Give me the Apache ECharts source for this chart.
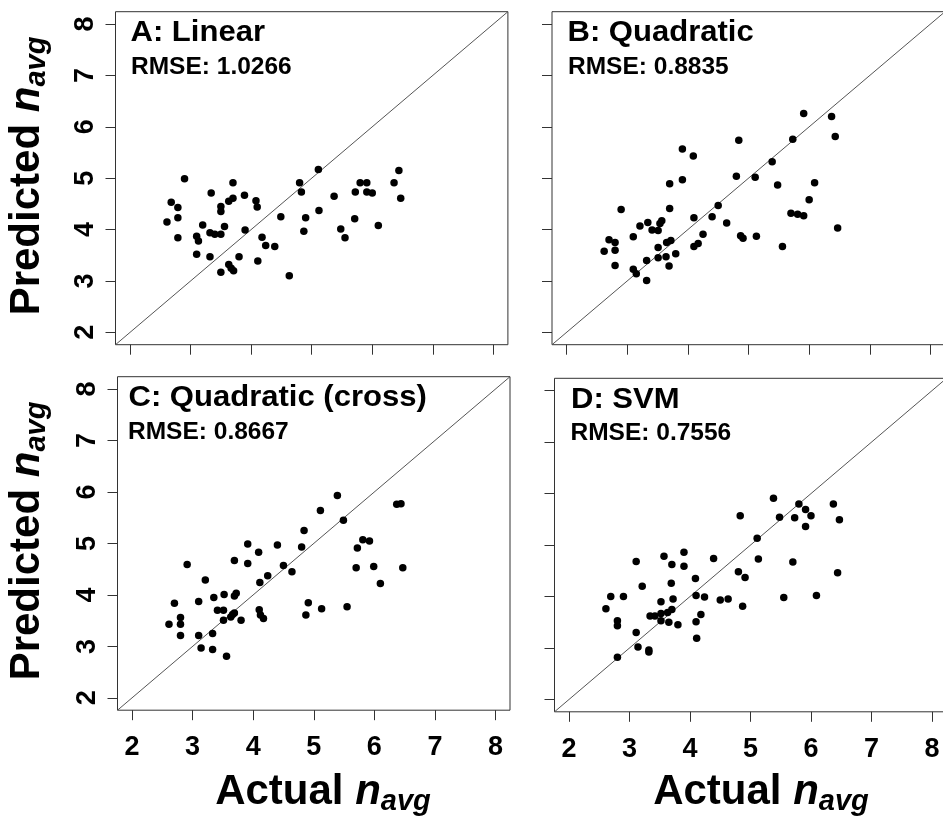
<!DOCTYPE html>
<html>
<head>
<meta charset="utf-8">
<script src="https://cdn.jsdelivr.net/npm/echarts@6.0.0/dist/echarts.min.js"></script>
<style>
  html, body { margin: 0; padding: 0; background: #fff; }
  #chart { width: 943px; height: 821px; }
</style>
</head>
<body>
<div id="chart"></div>
<script>
// ---------- data ----------
const AX_MIN = 1.76, AX_MAX = 8.24;
const tickValues = [2, 3, 4, 5, 6, 7, 8];
const panelTitles = ['A: Linear', 'B: Quadratic', 'C: Quadratic (cross)', 'D: SVM'];
const rmseLabels = ['RMSE: 1.0266', 'RMSE: 0.8835', 'RMSE: 0.8667', 'RMSE: 0.7556'];
const xAxisTitle = 'Actual ';
const yAxisTitle = 'Predicted ';

const actualA = [2.61,2.68,2.79,2.79,2.79,2.90,3.10,3.13,3.10,3.20,3.32,3.40,3.50,3.56,3.32,3.34,3.50,3.50,3.63,3.70,3.70,3.89,3.90,3.50,3.63,3.67,3.71,3.80,4.08,4.10,4.11,4.18,4.24,4.39,4.49,4.63,4.80,4.83,4.87,4.90,5.11,5.12,5.37,5.48,5.55,5.71,5.72,5.80,5.91,5.91,6.00,6.10,6.36,6.44,6.47];
const predA   = [4.15,4.53,4.43,4.23,3.84,4.99,3.87,3.78,3.52,4.09,3.94,3.91,3.91,4.06,3.47,4.71,4.45,4.35,4.55,4.61,4.91,4.67,3.99,3.17,3.32,3.25,3.20,3.47,4.56,4.44,3.39,3.85,3.69,3.67,4.25,3.10,4.91,4.73,3.97,4.23,5.17,4.37,4.65,4.01,3.84,4.21,4.73,4.91,4.91,4.73,4.71,4.08,4.91,5.15,4.61];

const actualB = [2.62,2.70,2.80,2.80,2.80,2.90,3.10,3.10,3.15,3.21,3.32,3.32,3.34,3.41,3.51,3.51,3.51,3.54,3.57,3.64,3.65,3.69,3.70,3.70,3.72,3.80,3.91,3.91,4.09,4.10,4.10,4.17,4.25,4.40,4.50,4.64,4.80,4.84,4.87,4.91,5.11,5.13,5.39,5.48,5.56,5.70,5.73,5.81,5.91,5.91,6.00,6.09,6.37,6.43,6.47];
const predB   = [3.58,3.80,3.75,3.60,3.30,4.39,3.86,3.23,3.14,4.07,3.40,3.01,4.14,3.99,3.98,3.65,3.45,4.12,4.17,3.47,3.75,3.29,4.89,4.41,3.79,3.53,4.97,5.57,5.43,4.23,3.67,3.73,3.91,4.25,4.47,4.13,5.04,5.74,3.88,3.83,5.02,3.87,5.32,4.87,3.67,4.32,5.76,4.30,4.27,6.26,4.58,4.91,6.20,5.81,4.03];

const actualC = [2.61,2.70,2.80,2.80,2.80,2.91,3.10,3.10,3.14,3.21,3.33,3.33,3.35,3.41,3.51,3.52,3.51,3.56,3.63,3.66,3.69,3.69,3.69,3.72,3.80,3.91,3.91,4.09,4.11,4.10,4.12,4.17,4.24,4.40,4.50,4.64,4.80,4.84,4.87,4.91,5.11,5.13,5.39,5.49,5.55,5.70,5.72,5.81,5.92,5.99,6.10,6.37,6.44,6.47];
const predC   = [3.43,3.84,3.56,3.43,3.21,4.59,3.87,3.21,2.97,4.29,3.25,2.94,3.95,3.70,3.70,4.01,3.51,2.81,3.57,3.62,3.65,4.67,3.98,4.03,3.51,4.99,4.61,4.83,4.24,3.71,3.61,3.54,4.37,4.97,4.57,4.45,4.93,5.25,3.61,3.85,5.64,3.73,5.93,5.45,3.77,4.53,4.91,5.07,5.05,4.55,4.22,5.76,5.77,4.53];

const actualD = [2.61,2.69,2.80,2.80,2.90,2.80,3.11,3.11,3.14,3.21,3.32,3.32,3.34,3.42,3.52,3.52,3.52,3.57,3.63,3.65,3.69,3.70,3.70,3.72,3.80,3.90,3.90,4.09,4.10,4.10,4.11,4.18,4.24,4.39,4.50,4.63,4.80,4.83,4.87,4.91,5.11,5.13,5.38,5.48,5.55,5.70,5.73,5.80,5.91,5.91,6.00,6.09,6.37,6.44,6.47];
const predD   = [3.76,4.00,3.53,3.43,4.00,2.82,4.68,3.30,3.02,4.20,2.96,2.92,3.62,3.62,3.90,3.53,3.67,4.78,3.69,3.50,4.26,4.62,3.75,3.95,3.45,4.86,4.59,4.35,4.02,3.51,3.19,3.65,3.99,4.74,3.93,3.95,4.48,5.57,3.81,4.37,5.13,4.73,5.91,5.54,3.98,4.67,5.53,5.80,5.69,5.36,5.57,4.02,5.80,4.46,5.49];

// ---------- layout / style ----------
const FONT = "'Liberation Sans', Arial, Helvetica, sans-serif";
const actuals = [actualA, actualB, actualC, actualD];
const preds = [predA, predB, predC, predD];
const layout = [
  { left: 115.5, top: 11.7,  width: 392.4, height: 333,   showX: false, showY: true,  titleX: 130.5, rmseX: 131 },
  { left: 552,   top: 11.7,  width: 393,   height: 333,   showX: false, showY: false, titleX: 567.5, rmseX: 568 },
  { left: 117.5, top: 376.7, width: 392.5, height: 333.5, showX: true,  showY: true,  titleX: 128.5, rmseX: 128 },
  { left: 554.5, top: 378.3, width: 392,   height: 333.5, showX: true,  showY: false, titleX: 571,   rmseX: 570.5 }
];

const grids = [], xAxes = [], yAxes = [], series = [], graphics = [];
layout.forEach((L, i) => {
  grids.push({
    left: L.left, top: L.top, width: L.width, height: L.height,
    show: true, borderColor: '#333', borderWidth: 1, backgroundColor: 'transparent',
    containLabel: false, outerBoundsMode: 'none'
  });
  const common = {
    gridIndex: i, type: 'value', min: AX_MIN, max: AX_MAX,
    axisLine: { show: false },
    splitLine: { show: false },
    axisTick: { show: true, inside: false, length: 10, customValues: tickValues,
                lineStyle: { color: '#333', width: 1 } }
  };
  xAxes.push(Object.assign({}, common, {
    axisLabel: { show: L.showX, customValues: tickValues, margin: 24,
                 fontSize: 27, fontWeight: 'bold', fontFamily: FONT, color: '#000' }
  }));
  yAxes.push(Object.assign({}, common, {
    axisLabel: { show: L.showY, customValues: tickValues, margin: 16, rotate: 90,
                 fontSize: 27, fontWeight: 'bold', fontFamily: FONT, color: '#000' }
  }));
  series.push({
    type: 'line', xAxisIndex: i, yAxisIndex: i, silent: true,
    data: [[AX_MIN, AX_MIN], [AX_MAX, AX_MAX]],
    symbol: 'none', lineStyle: { color: '#555', width: 1 }, z: 1
  });
  series.push({
    type: 'scatter', xAxisIndex: i, yAxisIndex: i, silent: true,
    data: actuals[i].map((a, k) => [a, preds[i][k]]),
    symbol: 'circle', symbolSize: 7.5,
    itemStyle: { color: '#000', opacity: 1 }, z: 2
  });
  graphics.push({
    type: 'text', x: L.titleX, y: L.top + 7.2, scaleX: 1.07, z: 10,
    style: { text: panelTitles[i], fontSize: 29, fontWeight: 'bold', fontFamily: FONT,
             fill: '#000', align: 'left', verticalAlign: 'top' }
  });
  graphics.push({
    type: 'text', x: L.rmseX, y: L.top + 42.8, z: 10,
    style: { text: rmseLabels[i], fontSize: 24.5, fontWeight: 'bold', fontFamily: FONT,
             fill: '#000', align: 'left', verticalAlign: 'top' }
  });
});

function axisTitleStyle(mainText) {
  return {
    text: '{t|' + mainText + '}{n|n}{s|avg}',
    align: 'center', verticalAlign: 'middle', fill: '#000',
    rich: {
      t: { fontSize: 42, fontWeight: 'bold', fontFamily: FONT, fill: '#000', lineHeight: 48 },
      n: { fontSize: 42, fontWeight: 'bold', fontStyle: 'italic', fontFamily: FONT, fill: '#000', lineHeight: 48 },
      s: { fontSize: 29, fontWeight: 'bold', fontStyle: 'italic', fontFamily: FONT, fill: '#000',
           lineHeight: 26, verticalAlign: 'bottom' }
    }
  };
}
// x-axis titles under bottom panels
graphics.push({ type: 'text', x: 323, y: 792, z: 10, style: axisTitleStyle(xAxisTitle) });
graphics.push({ type: 'text', x: 761, y: 792, z: 10, style: axisTitleStyle(xAxisTitle) });
// y-axis titles beside left panels
graphics.push({ type: 'text', x: 27, y: 176, rotation: Math.PI / 2, z: 10, style: axisTitleStyle(yAxisTitle) });
graphics.push({ type: 'text', x: 27, y: 541, rotation: Math.PI / 2, z: 10, style: axisTitleStyle(yAxisTitle) });

const chart = echarts.init(document.getElementById('chart'), null, { renderer: 'canvas' });
chart.setOption({
  animation: false,
  backgroundColor: '#fff',
  grid: grids,
  xAxis: xAxes,
  yAxis: yAxes,
  series: series,
  graphic: graphics
});
</script>
</body>
</html>
